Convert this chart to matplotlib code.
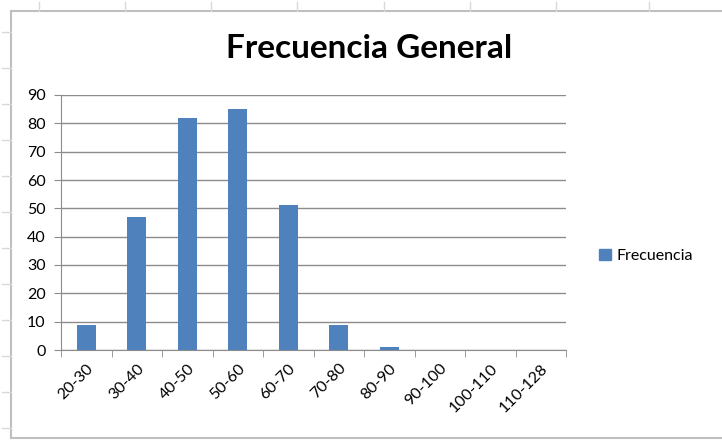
import matplotlib.pyplot as plt
from matplotlib.lines import Line2D
from matplotlib.patches import Patch

## Data
categories = ["20-30", "30-40", "40-50", "50-60", "60-70", "70-80",
              "80-90", "90-100", "100-110", "110-128"]
frecuencia = [9, 47, 82, 85, 51, 9, 1, 0, 0, 0]
y_ticks = [0, 10, 20, 30, 40, 50, 60, 70, 80, 90]

bar_color = "#4F81BD"
grid_color = "#8C8C8C"
plt.rcParams["font.family"] = ["Lato", "DejaVu Sans"]

fig = plt.figure(figsize=(7.22, 4.40), dpi=100)
W, H = 722, 440

# spreadsheet background: chart frame + cell ticks outside it
def px(x, y):
    return x / W, 1 - y / H

frame_x0, frame_y0 = px(11, 11)
frame_x1, frame_y1 = px(722, 438)
for xs, ys in [((frame_x0, frame_x1), (frame_y0, frame_y0)),
               ((frame_x0, frame_x0), (frame_y0, frame_y1)),
               ((frame_x0, frame_x1), (frame_y1, frame_y1))]:
    fig.add_artist(Line2D(xs, ys, color="#BFBFBF", lw=1.5))
for cx in [39, 125, 211, 297, 384, 470, 556, 649]:
    a, b = px(cx, 2)
    c, d = px(cx, 11)
    fig.add_artist(Line2D((a, c), (b, d), color="#D9D9D9", lw=1))
for cy in range(32, 440, 36):
    a, b = px(2, cy)
    c, d = px(11, cy)
    fig.add_artist(Line2D((a, c), (b, d), color="#D9D9D9", lw=1))

## Axes
ax = fig.add_axes([61 / W, 90 / H, 505 / W, 255 / H])
x = range(len(categories))
ax.bar(x, frecuencia, width=0.38, color=bar_color, zorder=3, label="Frecuencia")

ax.set_xlim(-0.5, len(categories) - 0.5)
ax.set_ylim(0, 90)
ax.set_yticks(y_ticks)
ax.set_yticklabels([str(v) for v in y_ticks], fontsize=11.5)
ax.grid(axis="y", color=grid_color, lw=1, zorder=0)

# category labels at centres, tick marks at the boundaries
ax.set_xticks(list(x))
ax.set_xticklabels(categories, rotation=45, ha="right", rotation_mode="anchor", fontsize=11.5)
ax.tick_params(axis="x", length=0, pad=8)
ax.set_xticks([i - 0.5 for i in range(len(categories) + 1)], minor=True)
ax.tick_params(axis="x", which="minor", length=5, color=grid_color, direction="out")
ax.tick_params(axis="y", length=5, color=grid_color, direction="out", pad=6)

for side in ["top", "right"]:
    ax.spines[side].set_visible(False)
ax.spines["left"].set_color(grid_color)
ax.spines["bottom"].set_color(grid_color)

fig.text(369 / W, 1 - 49 / H, "Frecuencia General", ha="center", va="center",
         fontsize=24, fontweight="bold")

fig.legend(handles=[Patch(color=bar_color, label="Frecuencia")],
           loc="center left", bbox_to_anchor=(585 / W, 1 - 256 / H),
           frameon=False, fontsize=11.5, handlelength=0.7, handleheight=0.7,
           handletextpad=0.4)

fig.savefig("out.png", dpi=100)
